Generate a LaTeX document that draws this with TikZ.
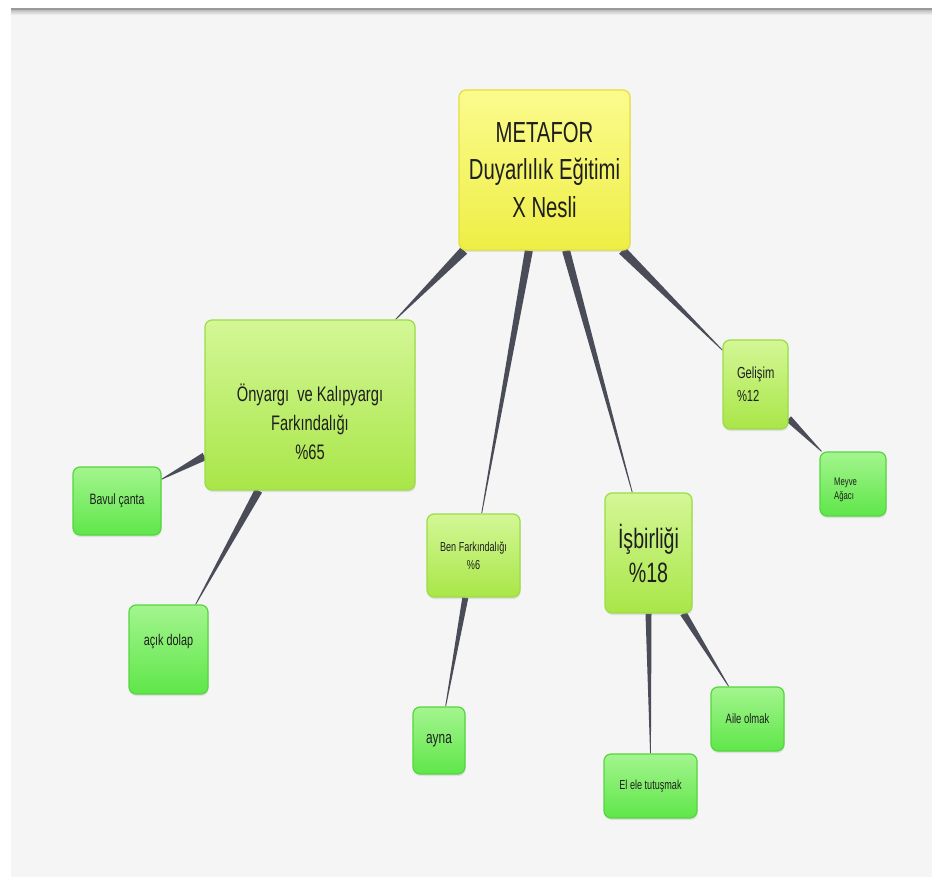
\documentclass[tikz,border=0pt]{standalone}
\usepackage{fontspec}
\setmainfont{Liberation Sans}[FakeStretch=0.7]
\usetikzlibrary{calc,shadows}
\pgfdeclarelayer{bottom}
\pgfdeclarelayer{background}
\pgfsetlayers{bottom,background,main}
\definecolor{bgc}{HTML}{F5F5F5}
\definecolor{conc}{HTML}{4A4D57}
\definecolor{ytop}{HTML}{FBFB8E}
\definecolor{ybot}{HTML}{EEEE45}
\definecolor{ybor}{HTML}{E2DF3E}
\definecolor{gtop}{HTML}{D3F796}
\definecolor{gbot}{HTML}{A9E648}
\definecolor{gbor}{HTML}{9CDC48}
\definecolor{ltop}{HTML}{A3F58E}
\definecolor{lbot}{HTML}{5FE64A}
\definecolor{lbor}{HTML}{55D63F}
\definecolor{txtc}{HTML}{1E1E1E}
\tikzset{
  box/.style={rectangle, rounded corners=7pt, line width=1.2pt, inner sep=0pt,
    text=txtc, align=center,
    drop shadow={opacity=0.18, shadow xshift=0.6pt, shadow yshift=-2pt}},
  rootbox/.style={box, draw=ybor, top color=ytop, bottom color=ybot},
  midbox/.style={box, draw=gbor, top color=gtop, bottom color=gbot},
  leafbox/.style={box, draw=lbor, top color=ltop, bottom color=lbot},
  sz/.style 2 args={minimum width=#1pt, minimum height=#2pt},
  txt/.style={inner sep=0pt, text=txtc},
  conn/.style={fill=conc},
}
\newcommand\wedgeconn[3]{%
  \pgfmathanglebetweenpoints{\pgfpointanchor{#1}{center}}{\pgfpointanchor{#2}{center}}%
  \edef\wa{\pgfmathresult}%
  \pgfmathsetmacro\wb{\wa+180}%
  \fill[conn] ($(#1.\wa)+(\wa+90:#3)$) -- ($(#1.\wa)+(\wa-90:#3)$)
     -- ($(#2.\wb)+(\wa-90:0.4pt)$) -- ($(#2.\wb)+(\wa+90:0.4pt)$) -- cycle;
}
\begin{document}
\begin{tikzpicture}[x=1pt,y=-1pt]
\useasboundingbox (0,0) rectangle (932,877);
\begin{pgfonlayer}{bottom}
\fill[white] (0,0) rectangle (932,877);
\fill[bgc] (11,9) rectangle (932,877);
\shade[top color=black!30, bottom color=bgc] (11,9) rectangle (932,15);
\draw[black!40, line width=1.2pt] (11,9) -- (932,9);
\end{pgfonlayer}

% nodes
\node[rootbox, sz={171}{160}, font=\fontsize{29pt}{37.5pt}\selectfont] (root) at (544.5,170)
  {METAFOR\\Duyarlılık Eğitimi\\X Nesli};
\node[midbox, sz={210}{170}] (ony) at (310,405) {};
\node[txt, align=center, font=\fontsize{21pt}{29pt}\selectfont] (onyt) at (310,421.5)
  {Önyargı\ \ ve Kalıpyargı\\Farkındalığı\\\%65};
\node[leafbox, sz={88}{68}, font=\fontsize{15pt}{18pt}\selectfont] (bavul) at (117,501) {Bavul çanta};
\node[leafbox, sz={79}{89}] (acik) at (168.5,649.5) {};
\node[txt, font=\fontsize{15.5pt}{18pt}\selectfont] (acikt) at (168.5,642) {açık dolap};
\node[midbox, sz={93}{83}, font=\fontsize{13pt}{18pt}\selectfont] (ben) at (473.5,555.5)
  {Ben Farkındalığı\\\%6};
\node[leafbox, sz={52}{67}, font=\fontsize{17pt}{20pt}\selectfont] (ayna) at (439,740.5) {ayna};
\node[midbox, sz={87}{120}, font=\fontsize{28pt}{34pt}\selectfont] (isb) at (648.5,553)
  {İşbirliği\\\%18};
\node[leafbox, sz={73}{64}, font=\fontsize{13.5pt}{16pt}\selectfont] (aile) at (747.5,719) {Aile olmak};
\node[leafbox, sz={93}{64}, font=\fontsize{13pt}{16pt}\selectfont] (elele) at (650.5,786) {El ele tutuşmak};
\node[midbox, sz={65}{89}, align=left, text width=37pt, inner xsep=14pt,
  font=\fontsize{16pt}{23pt}\selectfont] (gel) at (755.5,384.5) {Gelişim\\\%12};
\node[leafbox, sz={66}{64}] (meyve) at (853,484) {};
\node[txt, anchor=west, align=left, font=\fontsize{11pt}{14pt}\selectfont] (meyvet) at (834,490)
  {Meyve\\Ağacı};

% connectors (behind the boxes)
\begin{pgfonlayer}{background}
\wedgeconn{root}{ony}{4.5pt}
\wedgeconn{root}{ben}{4pt}
\wedgeconn{root}{isb}{4pt}
\wedgeconn{root}{gel}{4.5pt}
\wedgeconn{ony}{bavul}{4pt}
\wedgeconn{ony}{acik}{4pt}
\wedgeconn{ben}{ayna}{3pt}
\wedgeconn{isb}{elele}{3pt}
\wedgeconn{isb}{aile}{3.5pt}
\wedgeconn{gel}{meyve}{3.5pt}
\end{pgfonlayer}
\end{tikzpicture}
\end{document}
